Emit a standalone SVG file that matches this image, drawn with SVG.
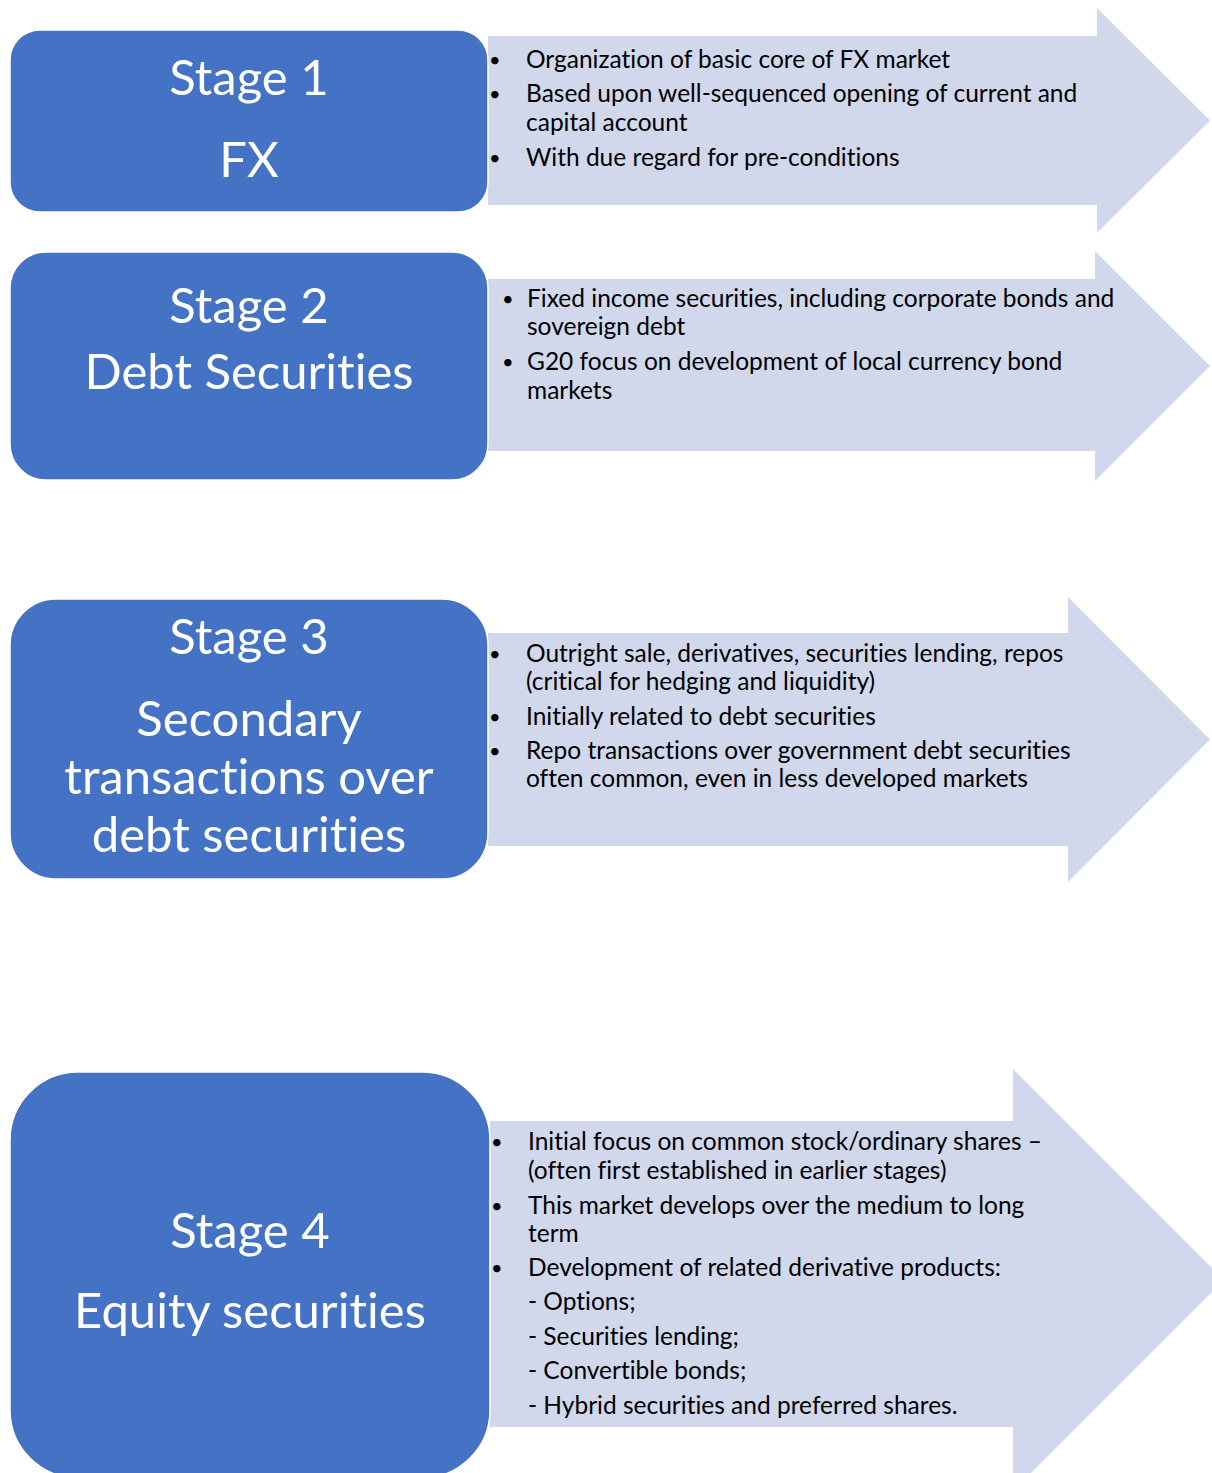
<svg xmlns="http://www.w3.org/2000/svg" width="1212" height="1473" viewBox="0 0 1212 1473">
<style>
.box{fill:#4472C4;stroke:#ffffff;stroke-width:1.5}
.arrow{fill:#D2D8EB}
text{font-variant-ligatures:none}
.title{font-family:Lato,"Open Sans","Liberation Sans",sans-serif;font-size:49px;fill:#ffffff;text-anchor:middle}
.body{font-family:Lato,"Open Sans","Liberation Sans",sans-serif;font-size:24.5px;fill:#000000}
.dot{font-family:Lato,"Open Sans","Liberation Sans",sans-serif;font-size:20px;fill:#000000}
</style>
<rect width="1212" height="1473" fill="#ffffff"/>

<g id="stage1-arrow">
<polygon class="arrow" points="488,36 1097,36 1097,8 1210,120.5 1097,233 1097,205 488,205"/>
<g transform="translate(0,1.5)">
<text class="dot" x="489" y="65">•</text>
<text class="body" x="526" y="66">Organization of basic core of FX market</text>
<text class="dot" x="489" y="99">•</text>
<text class="body" x="526" y="100">Based upon well-sequenced opening of current and</text>
<text class="body" x="526" y="129">capital account</text>
<text class="dot" x="489" y="163">•</text>
<text class="body" x="526" y="164">With due regard for pre-conditions</text>
</g>
</g>
<g id="stage1">
<rect class="box" x="10" y="30" width="478" height="182" rx="30"/>
<text class="title" x="249" y="95">Stage 1</text>
<text class="title" x="249" y="177">FX</text>
</g>

<g id="stage2-arrow">
<polygon class="arrow" points="488,279 1095,279 1095,251 1210,366 1095,481 1095,451 488,451"/>
<g transform="translate(0,1.5)">
<text class="dot" x="502" y="304">•</text>
<text class="body" x="527" y="305">Fixed income securities, including corporate bonds and</text>
<text class="body" x="527" y="333">sovereign debt</text>
<text class="dot" x="502" y="367">•</text>
<text class="body" x="527" y="368">G20 focus on development of local currency bond</text>
<text class="body" x="527" y="397">markets</text>
</g>
</g>
<g id="stage2">
<rect class="box" x="10" y="252" width="478" height="228" rx="36"/>
<text class="title" x="249" y="323">Stage 2</text>
<text class="title" x="249" y="389">Debt Securities</text>
</g>

<g id="stage3-arrow">
<polygon class="arrow" points="488,633 1068,633 1068,597 1210,739.5 1068,882 1068,846 488,846"/>
<g transform="translate(0,1.5)">
<text class="dot" x="489" y="659">•</text>
<text class="body" x="526" y="660">Outright sale, derivatives, securities lending, repos</text>
<text class="body" x="526" y="688">(critical for hedging and liquidity)</text>
<text class="dot" x="489" y="722">•</text>
<text class="body" x="526" y="723">Initially related to debt securities</text>
<text class="dot" x="489" y="756">•</text>
<text class="body" x="526" y="757">Repo transactions over government debt securities</text>
<text class="body" x="526" y="785">often common, even in less developed markets</text>
</g>
</g>
<g id="stage3">
<rect class="box" x="10" y="599" width="478" height="280" rx="46"/>
<text class="title" x="249" y="654">Stage 3</text>
<text class="title" x="249" y="736">Secondary</text>
<text class="title" x="249" y="794">transactions over</text>
<text class="title" x="249" y="852">debt securities</text>
</g>

<g id="stage4-arrow">
<polygon class="arrow" points="490,1121 1013,1121 1013,1069 1224,1280 1013,1491 1013,1427 490,1427"/>
<g transform="translate(0,1.5)">
<text class="dot" x="491" y="1147">•</text>
<text class="body" x="528" y="1148">Initial focus on common stock/ordinary shares –</text>
<text class="body" x="528" y="1177">(often first established in earlier stages)</text>
<text class="dot" x="491" y="1211">•</text>
<text class="body" x="528" y="1212">This market develops over the medium to long</text>
<text class="body" x="528" y="1240">term</text>
<text class="dot" x="491" y="1273">•</text>
<text class="body" x="528" y="1274">Development of related derivative products:</text>
<text class="body" x="528" y="1308">- Options;</text>
<text class="body" x="528" y="1343">- Securities lending;</text>
<text class="body" x="528" y="1377">- Convertible bonds;</text>
<text class="body" x="528" y="1412">- Hybrid securities and preferred shares.</text>
</g>
</g>
<g id="stage4">
<rect class="box" x="10" y="1072" width="480" height="406" rx="68"/>
<text class="title" x="250" y="1248">Stage 4</text>
<text class="title" x="250" y="1328">Equity securities</text>
</g>
</svg>
